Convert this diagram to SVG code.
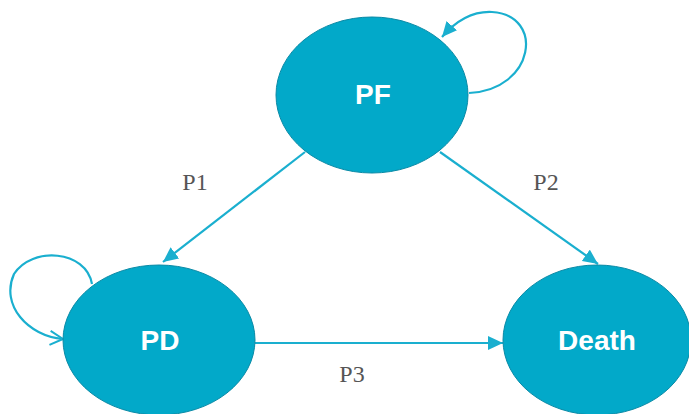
<svg xmlns="http://www.w3.org/2000/svg" width="689" height="414" viewBox="0 0 689 414">
<style>
.node{fill:#02a9c9;stroke:#0a8aa6;stroke-width:1}
.nt{font-family:"Liberation Sans",Arial,sans-serif;font-weight:bold;font-size:28px;fill:#ffffff;text-anchor:middle}
.lbl{font-family:"Liberation Serif","Times New Roman",serif;font-size:24px;fill:#555555;text-anchor:middle}
.edge{fill:none;stroke:#1aafcf;stroke-width:2.2}
</style>
<defs>
<marker id="ah" markerUnits="userSpaceOnUse" markerWidth="16" markerHeight="14" refX="15" refY="7" orient="auto">
<path d="M0,0 L15,7 L0,14 Z" fill="#1aafcf"/>
</marker>
<marker id="open" markerUnits="userSpaceOnUse" markerWidth="16" markerHeight="16" refX="14" refY="8" orient="auto">
<path d="M1,1 L14,8 L1,15" fill="none" stroke="#1aafcf" stroke-width="2"/>
</marker>
</defs>
<g id="connectors">
<path class="edge" d="M305,152 L163,262" marker-end="url(#ah)"/>
<path class="edge" d="M440,152 L598,264" marker-end="url(#ah)"/>
<path class="edge" d="M255,343 L503,343" stroke="#5cc7dc" marker-end="url(#ah)"/>
<path class="edge" d="M469,93 C535,90 545,15 492,12 C472,11 455,22 442,37" marker-end="url(#ah)"/>
<path class="edge" d="M92,284 C86,250 32,246 14,274 C0,305 28,336 63,339" marker-end="url(#open)"/>
</g>
<g id="PF">
<ellipse class="node" cx="372" cy="95" rx="96" ry="78"/>
<text class="nt" x="373" y="104">PF</text>
</g>
<g id="PD">
<ellipse class="node" cx="159" cy="340" rx="96" ry="75"/>
<text class="nt" x="160" y="350">PD</text>
</g>
<g id="Death">
<ellipse class="node" cx="597" cy="340" rx="94" ry="75"/>
<text class="nt" x="597" y="350">Death</text>
</g>
<g id="labels">
<text class="lbl" x="195" y="190">P1</text>
<text class="lbl" x="546" y="190">P2</text>
<text class="lbl" x="352" y="382">P3</text>
</g>
</svg>
